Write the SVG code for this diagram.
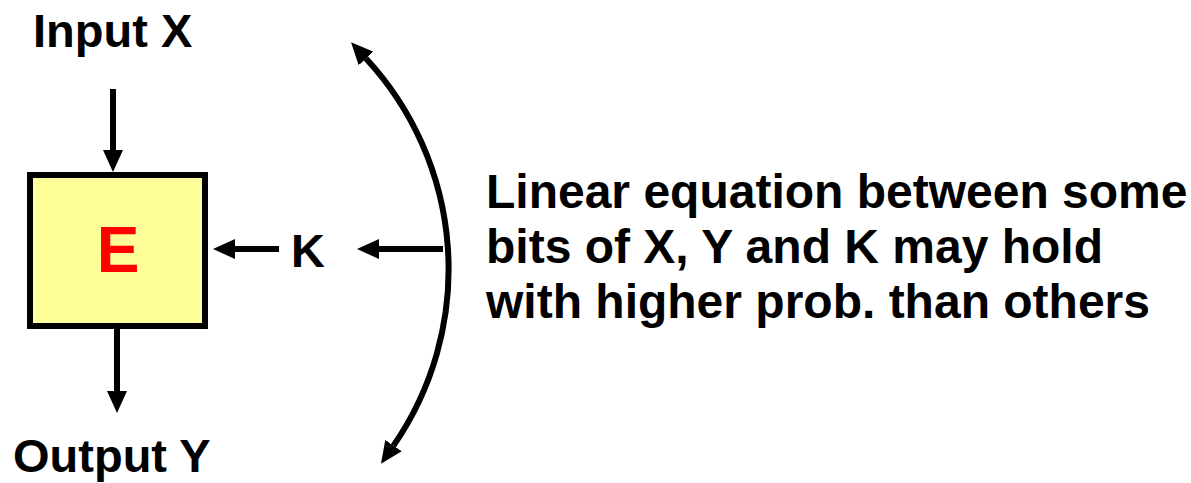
<svg xmlns="http://www.w3.org/2000/svg" width="1191" height="483" viewBox="0 0 1191 483">
<style>
  .t { font-family: "Liberation Sans", Arial, sans-serif; font-weight: bold; fill: #000; }
  .ln { stroke: #000; fill: none; stroke-width: 6; }
</style>
<defs>
  <marker id="ah" markerUnits="userSpaceOnUse" markerWidth="22" markerHeight="20" viewBox="0 0 22 20" refX="0" refY="10" orient="auto-start-reverse">
    <path d="M0,0 L22,10 L0,20 Z" fill="#000"/>
  </marker>
</defs>
<rect width="1191" height="483" fill="#fff"/>
<g id="node-E">
  <rect x="30" y="175" width="175" height="151" fill="#ffff99" stroke="#000" stroke-width="6"/>
  <text x="118" y="272" text-anchor="middle" class="t" style="fill:#ff0000" font-size="64">E</text>
</g>
<g id="label-input">
  <text x="33" y="47" class="t" font-size="47">Input X</text>
</g>
<g id="label-output">
  <text x="13" y="472" class="t" font-size="47">Output Y</text>
</g>
<g id="label-K">
  <text x="291" y="267" class="t" font-size="47">K</text>
</g>
<g id="label-note">
  <text class="t" font-size="48">
    <tspan x="486" y="208">Linear equation between some</tspan>
    <tspan x="486" y="263">bits of X, Y and K may hold</tspan>
    <tspan x="486" y="318">with higher prob. than others</tspan>
  </text>
</g>
<g id="connectors" class="ln">
  <line x1="113" y1="89" x2="113" y2="150" marker-end="url(#ah)"/>
  <line x1="117" y1="329" x2="117" y2="391" marker-end="url(#ah)"/>
  <line x1="279" y1="249" x2="235" y2="249" marker-end="url(#ah)"/>
  <line x1="443" y1="249" x2="379" y2="249" marker-end="url(#ah)"/>
  <path d="M366,58.5 A310,310 0 0 1 393.5,445.6" marker-start="url(#ah)" marker-end="url(#ah)"/>
</g>
</svg>
